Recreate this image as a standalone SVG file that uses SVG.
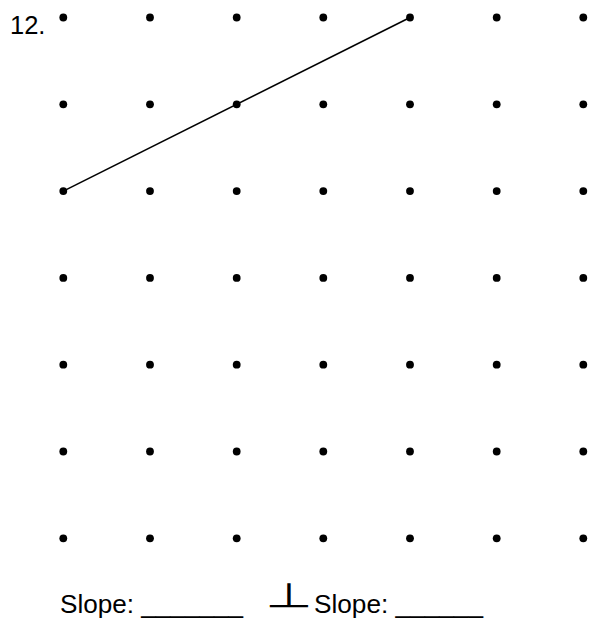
<svg xmlns="http://www.w3.org/2000/svg" width="597" height="623" viewBox="0 0 597 623">
<defs>
<style>
.dot{fill:#000}
.t{font-family:"Liberation Sans",Arial,sans-serif;font-size:25.5px;fill:#000}
</style>
<circle id="d" class="dot" r="3.9"/>
</defs>
<rect width="597" height="623" fill="#fff"/>
<text class="t" x="10" y="33.5">12.</text>
<g id="grid">
<g id="row1"><use href="#d" x="63.3" y="17.5"/><use href="#d" x="150" y="17.5"/><use href="#d" x="236.7" y="17.5"/><use href="#d" x="323.3" y="17.5"/><use href="#d" x="410" y="17.5"/><use href="#d" x="496.7" y="17.5"/><use href="#d" x="583.3" y="17.5"/></g>
<g id="row2"><use href="#d" x="63.3" y="104.3"/><use href="#d" x="150" y="104.3"/><use href="#d" x="236.7" y="104.3"/><use href="#d" x="323.3" y="104.3"/><use href="#d" x="410" y="104.3"/><use href="#d" x="496.7" y="104.3"/><use href="#d" x="583.3" y="104.3"/></g>
<g id="row3"><use href="#d" x="63.3" y="191.1"/><use href="#d" x="150" y="191.1"/><use href="#d" x="236.7" y="191.1"/><use href="#d" x="323.3" y="191.1"/><use href="#d" x="410" y="191.1"/><use href="#d" x="496.7" y="191.1"/><use href="#d" x="583.3" y="191.1"/></g>
<g id="row4"><use href="#d" x="63.3" y="277.9"/><use href="#d" x="150" y="277.9"/><use href="#d" x="236.7" y="277.9"/><use href="#d" x="323.3" y="277.9"/><use href="#d" x="410" y="277.9"/><use href="#d" x="496.7" y="277.9"/><use href="#d" x="583.3" y="277.9"/></g>
<g id="row5"><use href="#d" x="63.3" y="364.7"/><use href="#d" x="150" y="364.7"/><use href="#d" x="236.7" y="364.7"/><use href="#d" x="323.3" y="364.7"/><use href="#d" x="410" y="364.7"/><use href="#d" x="496.7" y="364.7"/><use href="#d" x="583.3" y="364.7"/></g>
<g id="row6"><use href="#d" x="63.3" y="451.5"/><use href="#d" x="150" y="451.5"/><use href="#d" x="236.7" y="451.5"/><use href="#d" x="323.3" y="451.5"/><use href="#d" x="410" y="451.5"/><use href="#d" x="496.7" y="451.5"/><use href="#d" x="583.3" y="451.5"/></g>
<g id="row7"><use href="#d" x="63.3" y="538.3"/><use href="#d" x="150" y="538.3"/><use href="#d" x="236.7" y="538.3"/><use href="#d" x="323.3" y="538.3"/><use href="#d" x="410" y="538.3"/><use href="#d" x="496.7" y="538.3"/><use href="#d" x="583.3" y="538.3"/></g>
</g>
<g id="connectors">
<line x1="63.3" y1="191.1" x2="410" y2="17.5" stroke="#000" stroke-width="1.6"/>
</g>
<text class="t" x="60" y="612.5" textLength="183" lengthAdjust="spacingAndGlyphs">Slope: _______</text>
<text class="t" x="314" y="612.5" textLength="169" lengthAdjust="spacingAndGlyphs">Slope: ______</text>
<text x="0" y="0" font-family="Noto Sans CJK JP, DejaVu Sans, sans-serif" font-size="44" fill="#000" text-anchor="middle" transform="translate(289,607.5) scale(1.1,0.76)">⊥</text>
</svg>
